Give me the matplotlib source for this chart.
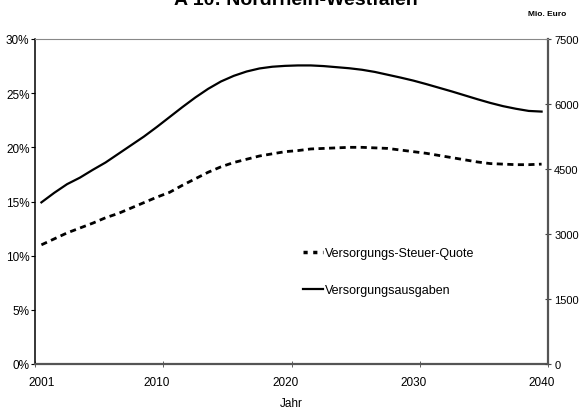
import numpy as np
import matplotlib.pyplot as plt
from matplotlib.lines import Line2D

plt.rcParams['font.family'] = ['Liberation Sans', 'DejaVu Sans']

# Daten
jahre = list(range(2001, 2041))

# Versorgungs-Steuer-Quote in %
quote = [11.0, 11.55, 12.1, 12.55, 13.0, 13.5, 13.9, 14.4, 14.9, 15.4,
         15.85, 16.5, 17.1, 17.7, 18.2, 18.6, 18.9, 19.2, 19.4, 19.6,
         19.7, 19.85, 19.9, 19.95, 20.0, 20.0, 19.95, 19.9, 19.75, 19.6,
         19.45, 19.25, 19.05, 18.85, 18.65, 18.5, 18.45, 18.4, 18.4, 18.45]

# Versorgungsausgaben in Mio. Euro
ausgaben = [3730, 3950, 4150, 4300, 4480, 4650, 4850, 5050, 5250, 5470,
            5700, 5930, 6150, 6350, 6520, 6650, 6750, 6820, 6860, 6880,
            6890, 6890, 6875, 6850, 6825, 6790, 6740, 6675, 6610, 6540,
            6460, 6375, 6290, 6200, 6110, 6025, 5950, 5890, 5840, 5825]

x_labels = [2001, 2010, 2020, 2030, 2040]
pct_ticks = [0, 5, 10, 15, 20, 25, 30]
euro_ticks = [0, 1500, 3000, 4500, 6000, 7500]

fig = plt.figure(figsize=(5.8, 4.1), dpi=100)
ax = fig.add_axes([35/580, 1-365/410, (548-35)/580, (365-40)/410])
ax2 = ax.twinx()

ax.plot(jahre, quote, color='black', lw=2, linestyle=(0, (2.2, 1.6)))
ax2.plot(jahre, ausgaben, color='black', lw=1.6)

ax.set_xlim(2000.5, 2040.5)
ax.set_ylim(0, 30)
ax2.set_ylim(0, 7500)

ax.set_xticks(x_labels)
ax.set_xticklabels([str(j) for j in x_labels], fontsize=8.5)
ax.set_xticks([2000.5, 2010.5, 2020.5, 2030.5, 2040.5], minor=True)
ax.tick_params(axis='x', which='major', length=0, pad=9)
ax.tick_params(axis='x', which='minor', direction='inout', length=5, color='#444')

ax.set_yticks(pct_ticks)
ax.set_yticklabels([f'{p}%' for p in pct_ticks], fontsize=8.5)
ax.tick_params(axis='y', direction='out', length=3, pad=1)
ax2.set_yticks(euro_ticks)
ax2.set_yticklabels([str(e) for e in euro_ticks], fontsize=8)
ax2.tick_params(axis='y', direction='inout', length=5, pad=2, color='#444')

ax.set_xlabel('Jahr', fontsize=8.5, labelpad=6)

# Rahmen
for s in ['top', 'right']:
    ax.spines[s].set_visible(False)
for s in ['left', 'bottom']:
    ax2.spines[s].set_visible(False)
ax.spines['left'].set_color('black')
ax.spines['left'].set_linewidth(1.1)
ax.spines['bottom'].set_color('#555555')
ax.spines['bottom'].set_linewidth(1.6)
ax2.spines['top'].set_color('#888888')
ax2.spines['top'].set_linewidth(0.8)
ax2.spines['right'].set_color('#555555')
ax2.spines['right'].set_linewidth(1.6)

handles = [Line2D([], [], color='black', lw=2.5, linestyle=(0, (1.2, 1.6))),
           Line2D([], [], color='black', lw=1.6)]
ax2.legend(handles, ['Versorgungs-Steuer-Quote', 'Versorgungsausgaben'],
           loc='upper left', bbox_to_anchor=(0.5, 0.395), frameon=False,
           fontsize=9, handlelength=1.6, handletextpad=0.2, labelspacing=2.0)

fig.text(0.51, 0.988, 'A 10: Nordrhein-Westfalen', ha='center', va='baseline',
         fontsize=14, fontweight='bold')
fig.text(566/580, 1-14/410, 'Mio. Euro', ha='right', va='center',
         fontsize=6, fontweight='bold')

fig.savefig('out.png', dpi=100)
